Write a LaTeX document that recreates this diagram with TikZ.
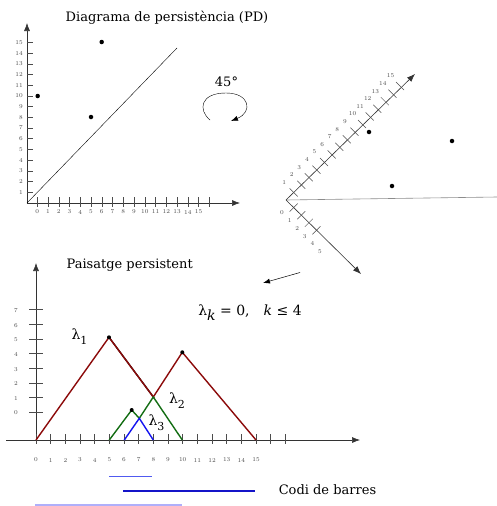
\documentclass[tikz,border=0pt]{standalone}
\usepackage{fontspec}
\newfontfamily\titlefont{DejaVu Serif}
\usetikzlibrary{arrows.meta}
\definecolor{lred}{RGB}{140,10,10}
\definecolor{lgreen}{RGB}{20,110,20}
\definecolor{lblue}{RGB}{20,20,240}
\definecolor{barA}{RGB}{80,90,240}
\definecolor{barB}{RGB}{20,20,200}
\definecolor{barC}{RGB}{175,175,250}
\tikzset{
  axis/.style={-{Latex[length=8pt,width=6pt]}, line width=0.6pt, black!80},
  tickmark/.style={line width=0.5pt, black!70},
  ticklab/.style={font=\fontsize{6}{6}\selectfont, inner sep=0pt, text=black!70},
  pdot/.style={circle, fill=black, inner sep=0pt, minimum size=4.5pt},
  ttl/.style={font=\titlefont\fontsize{13}{15}\selectfont, inner sep=0pt},
  lam/.style={font=\titlefont\fontsize{14}{16}\selectfont, inner sep=0pt},
  curve/.style={line width=1.4pt},
  barline/.style={line width=1.5pt}
}
\begin{document}
\begin{tikzpicture}[x=1pt,y=-1pt]
\useasboundingbox[fill=white] (0,0) rectangle (497,506);

% ---------- persistence diagram ----------
\node[ttl] (t1) at (167,18) {Diagrama de persistència (PD)};
\coordinate (O1) at (27,203);
\coordinate (Y1) at (27,23);
\coordinate (X1) at (240,203);
\coordinate (D1) at (177,48);
\draw[axis] (O1) -- (Y1);
\draw[axis] (O1) -- (X1);
\draw[line width=0.4pt] (O1) -- (D1);
\foreach \k in {1,...,15}{
  \draw[tickmark] (27,{203-10.71*\k}) -- ++(6,0);
  \node[ticklab, anchor=east] (pdy\k) at (23,{203-10.71*\k}) {\k};
}
\foreach \k in {0,...,16}
  \draw[tickmark] ({37.3+10.75*\k},197) -- ++(0,10);
\foreach \k in {0,...,15}
  \node[ticklab] (pdx\k) at ({37.3+10.75*\k},212) {\k};
\node[pdot] (pa) at (37.7,96) {};
\node[pdot] (pb) at (91,117) {};
\node[pdot] (pc) at (101.7,42) {};

% ---------- rotation ----------
\node[ttl] (deg) at (226.5,82) {45°};
\coordinate (r0) at (210,120);
\coordinate (r1) at (226,93);
\coordinate (r2) at (231,121);
\draw[line width=0.4pt, -{Latex[length=7pt,width=5pt]}]
  (r0) .. controls (198,110) and (200,93) .. (r1)
       .. controls (250,93) and (253,112) .. (r2);

% ---------- rotated diagram ----------
\coordinate (O2) at (286,200);
\coordinate (U2) at (415,74);
\coordinate (L2) at (361,274);
\coordinate (H2) at (497,197);
\draw[line width=0.6pt, black!45] (O2) -- (H2);
\draw[axis] (O2) -- (U2);
\draw[axis] (O2) -- (L2);
\foreach \k in {1,...,15}{
  \draw[tickmark] ({286+7.6*\k-4},{200-7.6*\k-4}) -- ++(8,8);
  \node[ticklab] (ru\k) at ({286+7.6*\k-9.5},{200-7.6*\k-10}) {\k};
}
\foreach \k in {1,...,4}
  \draw[tickmark] ({286+7.6*\k-4},{200+7.6*\k+4}) -- ++(8,-8);
\foreach \k in {0,...,5}
  \node[ticklab] (rl\k) at ({282+7.6*\k},{213+7.7*\k}) {\k};
\node[pdot] (qa) at (369,132) {};
\node[pdot] (qb) at (452,141) {};
\node[pdot] (qc) at (392,186) {};

% ---------- arrow between ----------
\coordinate (a1) at (300,272.5);
\coordinate (a2) at (263,283);
\draw[line width=0.5pt, -{Latex[length=7pt,width=5pt]}] (a1) -- (a2);

% ---------- landscape ----------
\node[ttl] (t2) at (129.7,265) {Paisatge persistent};
\coordinate (O3) at (36,440);
\coordinate (Y3) at (36,263);
\coordinate (X3s) at (6,440);
\coordinate (X3) at (360,440);
\draw[axis] (O3) -- (Y3);
\draw[axis] (X3s) -- (X3);
\foreach \k in {0,...,7}{
  \draw[tickmark] (29,{412.3-14.7*\k}) -- ++(14,0);
  \node[ticklab] (ly\k) at (16,{413-14.6*\k}) {\k};
}
\foreach \k in {0,...,17}
  \draw[tickmark] ({36+14.67*\k},434) -- ++(0,10);
\foreach \k in {0,...,15}
  \node[ticklab] (lx\k) at ({36+14.67*\k},460) {\k};

\coordinate (P1) at (109,337.3);
\coordinate (C) at (153.3,397);
\coordinate (P2) at (182.3,352.3);
\coordinate (E2) at (256,440);
\coordinate (G0) at (109.3,440);
\coordinate (SP) at (131.7,410);
\coordinate (BP) at (139.3,418.3);
\coordinate (G1) at (182.3,440);
\coordinate (B0) at (124.3,440);
\coordinate (B1) at (153.3,440);
\draw[curve, black] ([shift={(0.8,1)}]P1) -- ([shift={(0.8,1)}]C);
\draw[curve, lred] (O3) -- (P1) -- (C) -- (P2) -- (E2);
\draw[curve, lgreen] (G0) -- (SP) -- (BP) -- (C) -- (G1);
\draw[curve, lblue] (B0) -- (BP) -- (B1);
\node[pdot, minimum size=4pt] (d1) at (P1) {};
\node[pdot, minimum size=4pt] (d2) at (P2) {};
\node[pdot, minimum size=4pt] (d3) at (SP) {};

\node[lam] (l1) at (79.5,337) {λ\raisebox{-0.35em}{\fontsize{11}{11}\selectfont 1}};
\node[lam] (l2) at (177,401) {λ\raisebox{-0.35em}{\fontsize{11}{11}\selectfont 2}};
\node[lam] (l3) at (156.5,423) {λ\raisebox{-0.35em}{\fontsize{11}{11}\selectfont 3}};
\node[lam] (eq) at (250,313) {λ\raisebox{-0.35em}{\itshape k} = 0,\quad {\itshape k} ≤ 4};

% ---------- barcode ----------
\coordinate (b1s) at (109,476.7);
\coordinate (b1e) at (152.3,476.7);
\coordinate (b2s) at (123.3,491);
\coordinate (b2e) at (255,491);
\coordinate (b3s) at (35,505);
\coordinate (b3e) at (181.7,505);
\draw[barline, barA] (b1s) -- (b1e);
\draw[barline, barB] (b2s) -- (b2e);
\draw[barline, barC] (b3s) -- (b3e);
\node[ttl] (cb) at (327.5,490) {Codi de barres};
\end{tikzpicture}
\end{document}
